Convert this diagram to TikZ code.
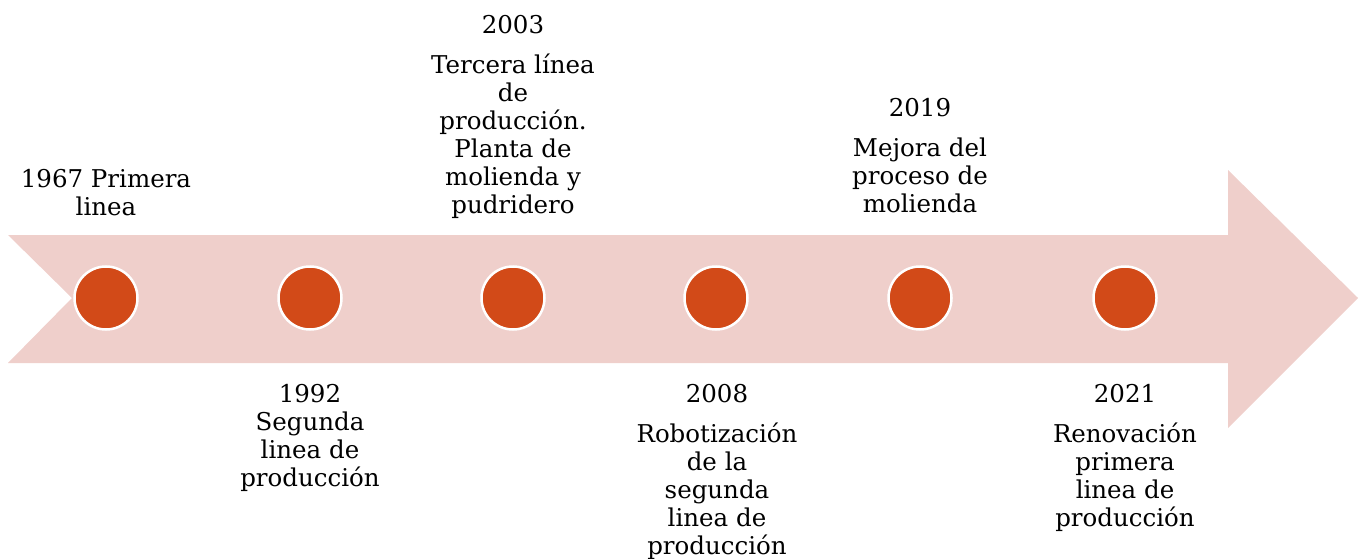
\documentclass[tikz,border=0pt]{standalone}
\usepackage{fontspec}
\setmainfont{DejaVu Serif}
\definecolor{arrowpink}{HTML}{EFCFCB}
\definecolor{dotorange}{HTML}{D24A18}
\begin{document}
\begin{tikzpicture}[x=1pt,y=-1pt,
  dot/.style={circle,fill=dotorange,draw=white,line width=2.5pt,minimum size=63pt,inner sep=0pt},
  lbl/.style={anchor=north,align=center,inner sep=0pt,font=\fontsize{24.5}{28}\selectfont}]
\useasboundingbox (0,0) rectangle (1365,559);
\fill[arrowpink] (8,235) -- (1228,235) -- (1228,170) -- (1358,298) -- (1228,428) -- (1228,363) -- (8,363) -- (72,298) -- cycle;
\node[dot] (d1) at (106,298) {};
\node[dot] (d2) at (310,298) {};
\node[dot] (d3) at (513,298) {};
\node[dot] (d4) at (716,298) {};
\node[dot] (d5) at (920,298) {};
\node[dot] (d6) at (1125,298) {};
\node[lbl] (t1) at (106,169) {1967 Primera\\linea};
\node[lbl] (t2) at (310,384) {1992\\Segunda\\linea de\\producción};
\node[lbl] (t3) at (513,15) {2003\\[12pt]Tercera línea\\de\\producción.\\Planta de\\molienda y\\pudridero};
\node[lbl] (t4) at (717,384) {2008\\[12pt]Robotización\\de la\\segunda\\linea de\\producción};
\node[lbl] (t5) at (920,98) {2019\\[12pt]Mejora del\\proceso de\\molienda};
\node[lbl] (t6) at (1125,384) {2021\\[12pt]Renovación\\primera\\linea de\\producción};
\end{tikzpicture}
\end{document}
